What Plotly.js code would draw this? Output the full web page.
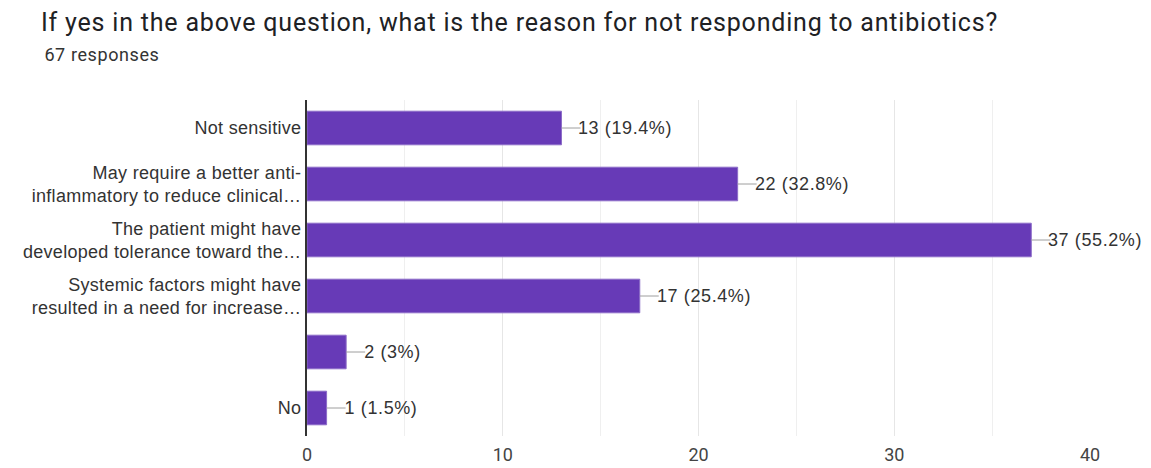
<!DOCTYPE html>
<html>
<head>
<meta charset="utf-8">
<script src="https://cdn.plot.ly/plotly-3.0.1.min.js"></script>
<style>
html,body{margin:0;padding:0;background:#fff;}
#chart{width:1151px;height:468px;}
#chart .gtitle{letter-spacing:0.8px;}
#chart .ytick text{letter-spacing:0.3px;}
#chart .annotation-text{letter-spacing:0.6px;}
</style>
</head>
<body>
<div id="chart"></div>
<script>
const titleText = "If yes in the above question, what is the reason for not responding to antibiotics?";
const subtitleText = "67 responses";
const categories = [
  "Not sensitive",
  "May require a better anti-<br>inflammatory to reduce clinical…",
  "The patient might have<br>developed tolerance toward the…",
  "Systemic factors might have<br>resulted in a need for increase…",
  " ",
  "No"
];
const counts = [13, 22, 37, 17, 2, 1];
const percents = ["19.4", "32.8", "55.2", "25.4", "3", "1.5"];
const xTickVals = [0, 10, 20, 30, 40];

const trace = {
  type: 'bar',
  orientation: 'h',
  y: categories,
  x: counts,
  width: 0.6,
  marker: {color: '#673ab7', line: {color: '#8c6cc8', width: 1}},
  hoverinfo: 'none'
};

const annotations = categories.map((c, i) => ({
  x: counts[i], y: c, xref: 'x', yref: 'y',
  text: counts[i] + ' (' + percents[i] + '%)',
  showarrow: true, arrowhead: 0, arrowwidth: 1, arrowcolor: '#9e9e9e',
  ax: 19, ay: 0, xanchor: 'left', borderpad: 0,
  font: {family: 'Arial, "Liberation Sans", sans-serif', size: 18, color: '#333333'}
}));

annotations.push({
  xref: 'paper', yref: 'paper', x: (46 - 307) / (1151 - 307 - 61), y: 1 + 46/336,
  xanchor: 'left', yanchor: 'middle', showarrow: false,
  text: subtitleText,
  font: {family: 'Roboto, Arial, sans-serif', size: 18, color: '#333333'}
});

const layout = {
  width: 1151, height: 468,
  margin: {l: 307, r: 61, t: 100, b: 32},
  paper_bgcolor: '#ffffff', plot_bgcolor: '#ffffff',
  showlegend: false,
  title: {
    text: titleText,
    x: 41/1151, xanchor: 'left', xref: 'container',
    y: 1 - 22/468, yanchor: 'middle', yref: 'container',
    font: {family: 'Roboto, Arial, sans-serif', size: 25, color: '#202124'}
  },
  xaxis: {
    range: [0, 40],
    tickvals: xTickVals,
    showgrid: true, gridcolor: '#e6e6e6', gridwidth: 1,
    minor: {dtick: 5, showgrid: true, gridcolor: '#efefef', gridwidth: 1},
    zeroline: false, showline: false,
    ticks: 'outside', ticklen: 2, tickcolor: 'rgba(0,0,0,0)',
    tickfont: {family: 'Roboto, Arial, sans-serif', size: 18, color: '#444444'},
    fixedrange: true
  },
  yaxis: {
    type: 'category',
    categoryorder: 'array', categoryarray: categories,
    autorange: 'reversed',
    showgrid: false, zeroline: false,
    showline: true, linecolor: '#333333', linewidth: 2,
    ticks: '', ticklabelstandoff: 0,
    tickfont: {family: 'Arial, "Liberation Sans", sans-serif', size: 18, color: '#333333'},
    fixedrange: true
  },
  annotations: annotations,
  bargap: 0.4
};

Plotly.newPlot('chart', [trace], layout, {displayModeBar: false, staticPlot: true});
</script>
</body>
</html>
